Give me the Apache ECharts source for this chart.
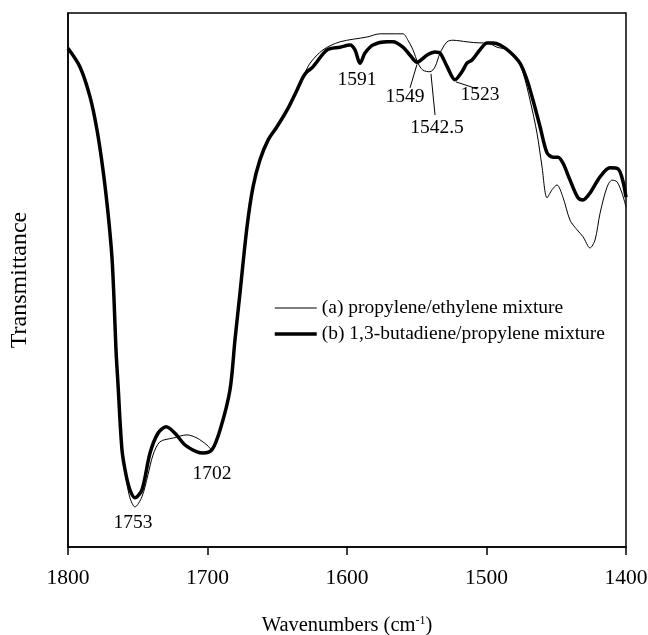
<!DOCTYPE html>
<html>
<head>
<meta charset="utf-8">
<script src="https://cdn.jsdelivr.net/npm/echarts@6/dist/echarts.min.js"></script>
<style>html,body{margin:0;padding:0;background:#fff}#c{width:648px;height:635px}</style>
</head>
<body>
<div id="c"></div>
<script>
// x ticks
const xTicks = [1800, 1700, 1600, 1500, 1400];
// series names
const seriesNames = ['(a) propylene/ethylene mixture', '(b) 1,3-butadiene/propylene mixture'];
// (a) thin curve: [wavenumber, transmittance (relative %)]
const seriesA = [
  [1800,93.4],[1791.4,89.9],[1784.2,84.3],[1779.2,78.1],[1774.9,70.6],[1771.3,62.5],[1768.5,54.3],
  [1767,46.3],[1765.6,36.9],[1764.2,30.7],[1761.3,18.2],[1758.4,12.9],[1755.6,9.2],[1752,7.5],
  [1747,9.4],[1742.7,13.5],[1739.1,17.2],[1734.1,19.7],[1724.7,20.4],[1714.7,21.0],[1707.5,20.4],
  [1700.4,19.1],[1696.8,18.2],[1691,21.9],[1683.9,29.4],[1680.3,38.8],[1676.7,47.6],[1671.7,59.9],
  [1667.4,67.4],[1662.4,72.5],[1656.6,76.2],[1650.2,78.7],[1643,81.8],[1635.8,85.6],[1631.5,88.0],
  [1626.5,90.6],[1617.2,93.1],[1605,94.6],
  [1585.7,95.5],[1576.3,96.1],[1569.2,96.1],[1559.9,96.1],[1556.3,94.9],[1552.7,93.1],
  [1549.1,90.6],[1545.6,89.3],[1540.5,89.0],[1536.9,89.9],[1533.3,92.5],[1528.3,94.6],
  [1524,94.9],[1514,94.6],[1504.7,94.4],[1499.6,94.4],[1492.5,93.6],[1485.3,93.1],[1478.1,91.2],
  [1473.8,88.8],[1468.8,83.7],[1463.8,77.5],[1460.2,71.2],[1456.6,65.4],[1453,66.9],[1449.5,67.8],
  [1445.2,65.5],[1440.1,61.2],[1435.1,59.4],[1430.8,58.1],[1425.8,56.0],[1422.2,57.5],
  [1418.6,62.5],[1413.6,67.4],[1410,68.7],[1406.5,68.4],[1402.9,66.3],[1400,63.7]
];
// (b) thick curve
const seriesB = [
  [1800,93.4],[1791.4,89.9],[1784.2,84.3],[1779.2,78.1],[1774.9,70.6],[1771.3,62.5],[1768.5,54.3],
  [1767,46.3],[1765.6,36.9],[1764.2,30.7],[1761.3,18.2],[1758.4,13.5],[1755.6,10.7],[1752,9.2],
  [1747,10.7],[1741.2,17.6],[1735.5,21.3],
  [1729.7,22.5],[1723.3,21.3],[1716.1,19.1],[1707.5,17.8],[1703.2,17.6],[1696.8,18.2],[1691,21.9],
  [1683.9,29.4],[1680.3,38.8],[1676.7,47.6],[1671.7,59.9],[1667.4,67.4],[1662.4,72.5],[1656.6,76.2],
  [1650.2,78.7],[1643,81.8],[1635.8,85.6],[1631.5,88.0],[1628.7,89.0],[1624.4,89.9],[1614.3,93.1],[1605,93.6],
  [1597.8,94.0],[1594.3,93.1],[1590.7,90.6],[1587.1,92.5],[1581.4,94.0],[1571.3,94.6],[1567,94.6],
  [1559.9,93.6],[1554.8,92.1],[1549.8,90.8],[1542.7,92.1],[1536.9,92.7],[1533.3,92.5],[1528.3,90.0],
  [1522.6,87.5],[1517.6,89.0],[1514,90.6],[1510.4,91.2],[1504.7,93.1],[1499.6,94.4],[1495.3,94.4],
  [1490.3,94.0],[1483.2,92.7],[1476,90.6],[1471,87.5],[1466.7,83.7],[1461.6,78.7],[1456.6,73.8],
  [1452.3,73.0],[1448.7,73.0],[1445.2,71.9],[1440.1,68.7],[1434.4,65.4],[1430.8,65.0],[1425.8,66.3],
  [1418.6,69.3],[1411.5,71.0],[1405.7,70.8],[1402.2,68.5],[1400,65.5]
];
// peak annotation labels: [text, wavenumber, value]
const peakLabels = [
  ['1753', 1753.4, 4.5],
  ['1702', 1696.8, 13.7],
  ['1591', 1592.8, 87.5],
  ['1549', 1558.4, 84.3],
  ['1542.5', 1535.5, 78.5],
  ['1523', 1504.7, 84.6]
];
// leader lines: [[w1,v1],[w2,v2]]
const leaderLines = [
  [[1554.8, 86.0], [1549.8, 90.4]],
  [[1536.9, 80.9], [1539.8, 88.6]],
  [[1506.8, 85.8], [1521.9, 87.1]]
];

const FONT = 'Liberation Serif';
const chart = echarts.init(document.getElementById('c'), null, {renderer: 'canvas'});
chart.setOption({
  animation: false,
  backgroundColor: '#fff',
  grid: {left: 68, right: 22, top: 13, bottom: 88, show: true, borderColor: '#000', borderWidth: 1.5,
    outerBoundsMode: 'none', containLabel: false},
  legend: {
    orient: 'vertical', left: 268, top: 293, itemWidth: 42, itemHeight: 14, itemGap: 6,
    textStyle: {fontFamily: FONT, fontSize: 19.5, color: '#000'},
    itemStyle: {opacity: 0},
    data: [
      {name: seriesNames[0], lineStyle: {width: 1, color: '#000'}, itemStyle: {opacity: 0}},
      {name: seriesNames[1], lineStyle: {width: 3.5, color: '#000'}, itemStyle: {opacity: 0}}
    ]
  },
  xAxis: {
    type: 'value', min: xTicks[xTicks.length - 1], max: xTicks[0], interval: 100, inverse: true,
    axisLine: {show: true, lineStyle: {color: '#000', width: 1.5}},
    axisTick: {show: true, inside: false, length: 8, lineStyle: {color: '#000', width: 1.5}},
    splitLine: {show: false},
    axisLabel: {margin: 20, fontFamily: FONT, fontSize: 21.5, color: '#000', formatter: v => String(v)},
    name: 'Wavenumbers (cm{sup|-1})',
    nameLocation: 'middle', nameGap: 68,
    nameTextStyle: {fontFamily: FONT, fontSize: 20.5, color: '#000',
      rich: {sup: {fontFamily: FONT, fontSize: 12, verticalAlign: 'top', padding: [0,0,10,0], color: '#000'}}}
  },
  yAxis: {
    type: 'value', min: 0, max: 100,
    axisLine: {show: true, lineStyle: {color: '#000', width: 1.5}},
    axisTick: {show: false}, axisLabel: {show: false}, splitLine: {show: false},
    name: 'Transmittance', nameLocation: 'middle', nameGap: 36, nameRotate: 90,
    nameTextStyle: {fontFamily: FONT, fontSize: 24, color: '#000'}
  },
  series: [
    {
      name: seriesNames[0], type: 'line', data: seriesA, symbol: 'none', smooth: 0.3,
      lineStyle: {color: '#000', width: 1}, itemStyle: {color: '#000'}, z: 3
    },
    {
      name: seriesNames[1], type: 'line', data: seriesB, symbol: 'none', smooth: 0.3,
      lineStyle: {color: '#000', width: 3.5}, itemStyle: {color: '#000'}, z: 4
    },
    {
      type: 'scatter', symbolSize: 0, silent: true, itemStyle: {opacity: 1, color: '#000'},
      data: peakLabels.map(p => ({value: [p[1], p[2]], name: p[0]})),
      label: {show: true, position: 'inside', formatter: p => p.name,
        fontFamily: FONT, fontSize: 19.5, color: '#000', opacity: 1}
    },
    {
      type: 'lines', coordinateSystem: 'cartesian2d', silent: true,
      data: leaderLines.map(l => ({coords: l})),
      lineStyle: {color: '#000', width: 1, opacity: 1}
    }
  ]
});
</script>
</body>
</html>
